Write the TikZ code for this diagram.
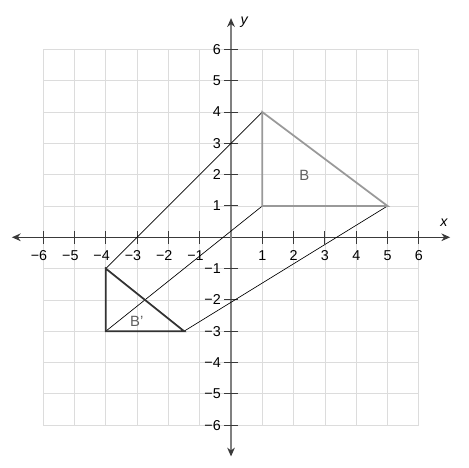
\documentclass[tikz,border=0pt]{standalone}
\usepackage{fontspec}
\setmainfont{Liberation Sans}
\usetikzlibrary{arrows.meta}
\definecolor{gridc}{HTML}{DCDCDC}
\definecolor{axc}{HTML}{3A3A3A}
\definecolor{yaxc}{HTML}{808080}
\definecolor{bc}{HTML}{999999}
\definecolor{bpc}{HTML}{333333}
\definecolor{labc}{HTML}{606060}
\tikzset{
  gridline/.style={gridc, line width=0.7pt},
  axisline/.style={line width=1.1pt, {Stealth[length=8pt,width=7pt,color=axc]}-{Stealth[length=8pt,width=7pt,color=axc]}},
  tickline/.style={axc, line width=0.9pt},
  lab/.style={font=\fontsize{13}{15}\selectfont, text=black, inner sep=0pt},
  tri/.style={line width=1.6pt, line join=miter},
  conn/.style={black, line width=0.6pt},
  shapelab/.style={font=\fontsize{13.5}{15}\selectfont, text=labc, inner sep=0pt}
}
\begin{document}
\begin{tikzpicture}
\useasboundingbox (-7.38,-7.37) rectangle (7.57,7.58);
\draw[gridline] (-6,-6) grid (6,6);
% axes
\coordinate (xl) at (-7,0); \coordinate (xr) at (7,0);
\coordinate (yb) at (0,-7); \coordinate (yt) at (0,7);
\draw[axisline, axc] (xl) -- (xr);
\draw[axisline, yaxc] (yb) -- (yt);
\foreach \i in {-6,...,-1} {
  \draw[tickline] (\i,-0.2) -- (\i,0.2);
  \draw[tickline] (-0.22,\i) -- (0.22,\i);
  \node[lab, anchor=north] (xlab\i) at (\i,-0.42) {\llap{−}\the\numexpr-\i\relax};
  \node[lab, anchor=east] (ylab\i) at (-0.32,\i) {−\the\numexpr-\i\relax};
}
\foreach \i in {1,...,6} {
  \draw[tickline] (\i,-0.2) -- (\i,0.2);
  \draw[tickline] (-0.22,\i) -- (0.22,\i);
  \node[lab, anchor=north] (xlab\i) at (\i,-0.42) {\i};
  \node[lab, anchor=east] (ylab\i) at (-0.32,\i) {\i};
}
\node[lab, font=\fontsize{13}{15}\selectfont\itshape] (xname) at (6.8,0.45) {x};
\node[lab, font=\fontsize{13}{15}\selectfont\itshape] (yname) at (0.42,6.88) {y};
% vertices
\coordinate (A) at (1,4); \coordinate (B) at (1,1); \coordinate (C) at (5,1);
\coordinate (Ap) at (-4,-1); \coordinate (Bp) at (-4,-3); \coordinate (Cp) at (-1.5,-3);
% connectors
\draw[conn] (Ap) -- (A);
\draw[conn] (Bp) -- (B);
\draw[conn] (Cp) -- (C);
% triangles
\draw[tri, bc] (A) -- (B) -- (C) -- cycle;
\draw[tri, bpc] (Ap) -- (Bp) -- (Cp) -- cycle;
\node[shapelab] (Blab) at (2.34,1.99) {B};
\node[shapelab] (Bplab) at (-3.01,-2.68) {B'};
\end{tikzpicture}
\end{document}
